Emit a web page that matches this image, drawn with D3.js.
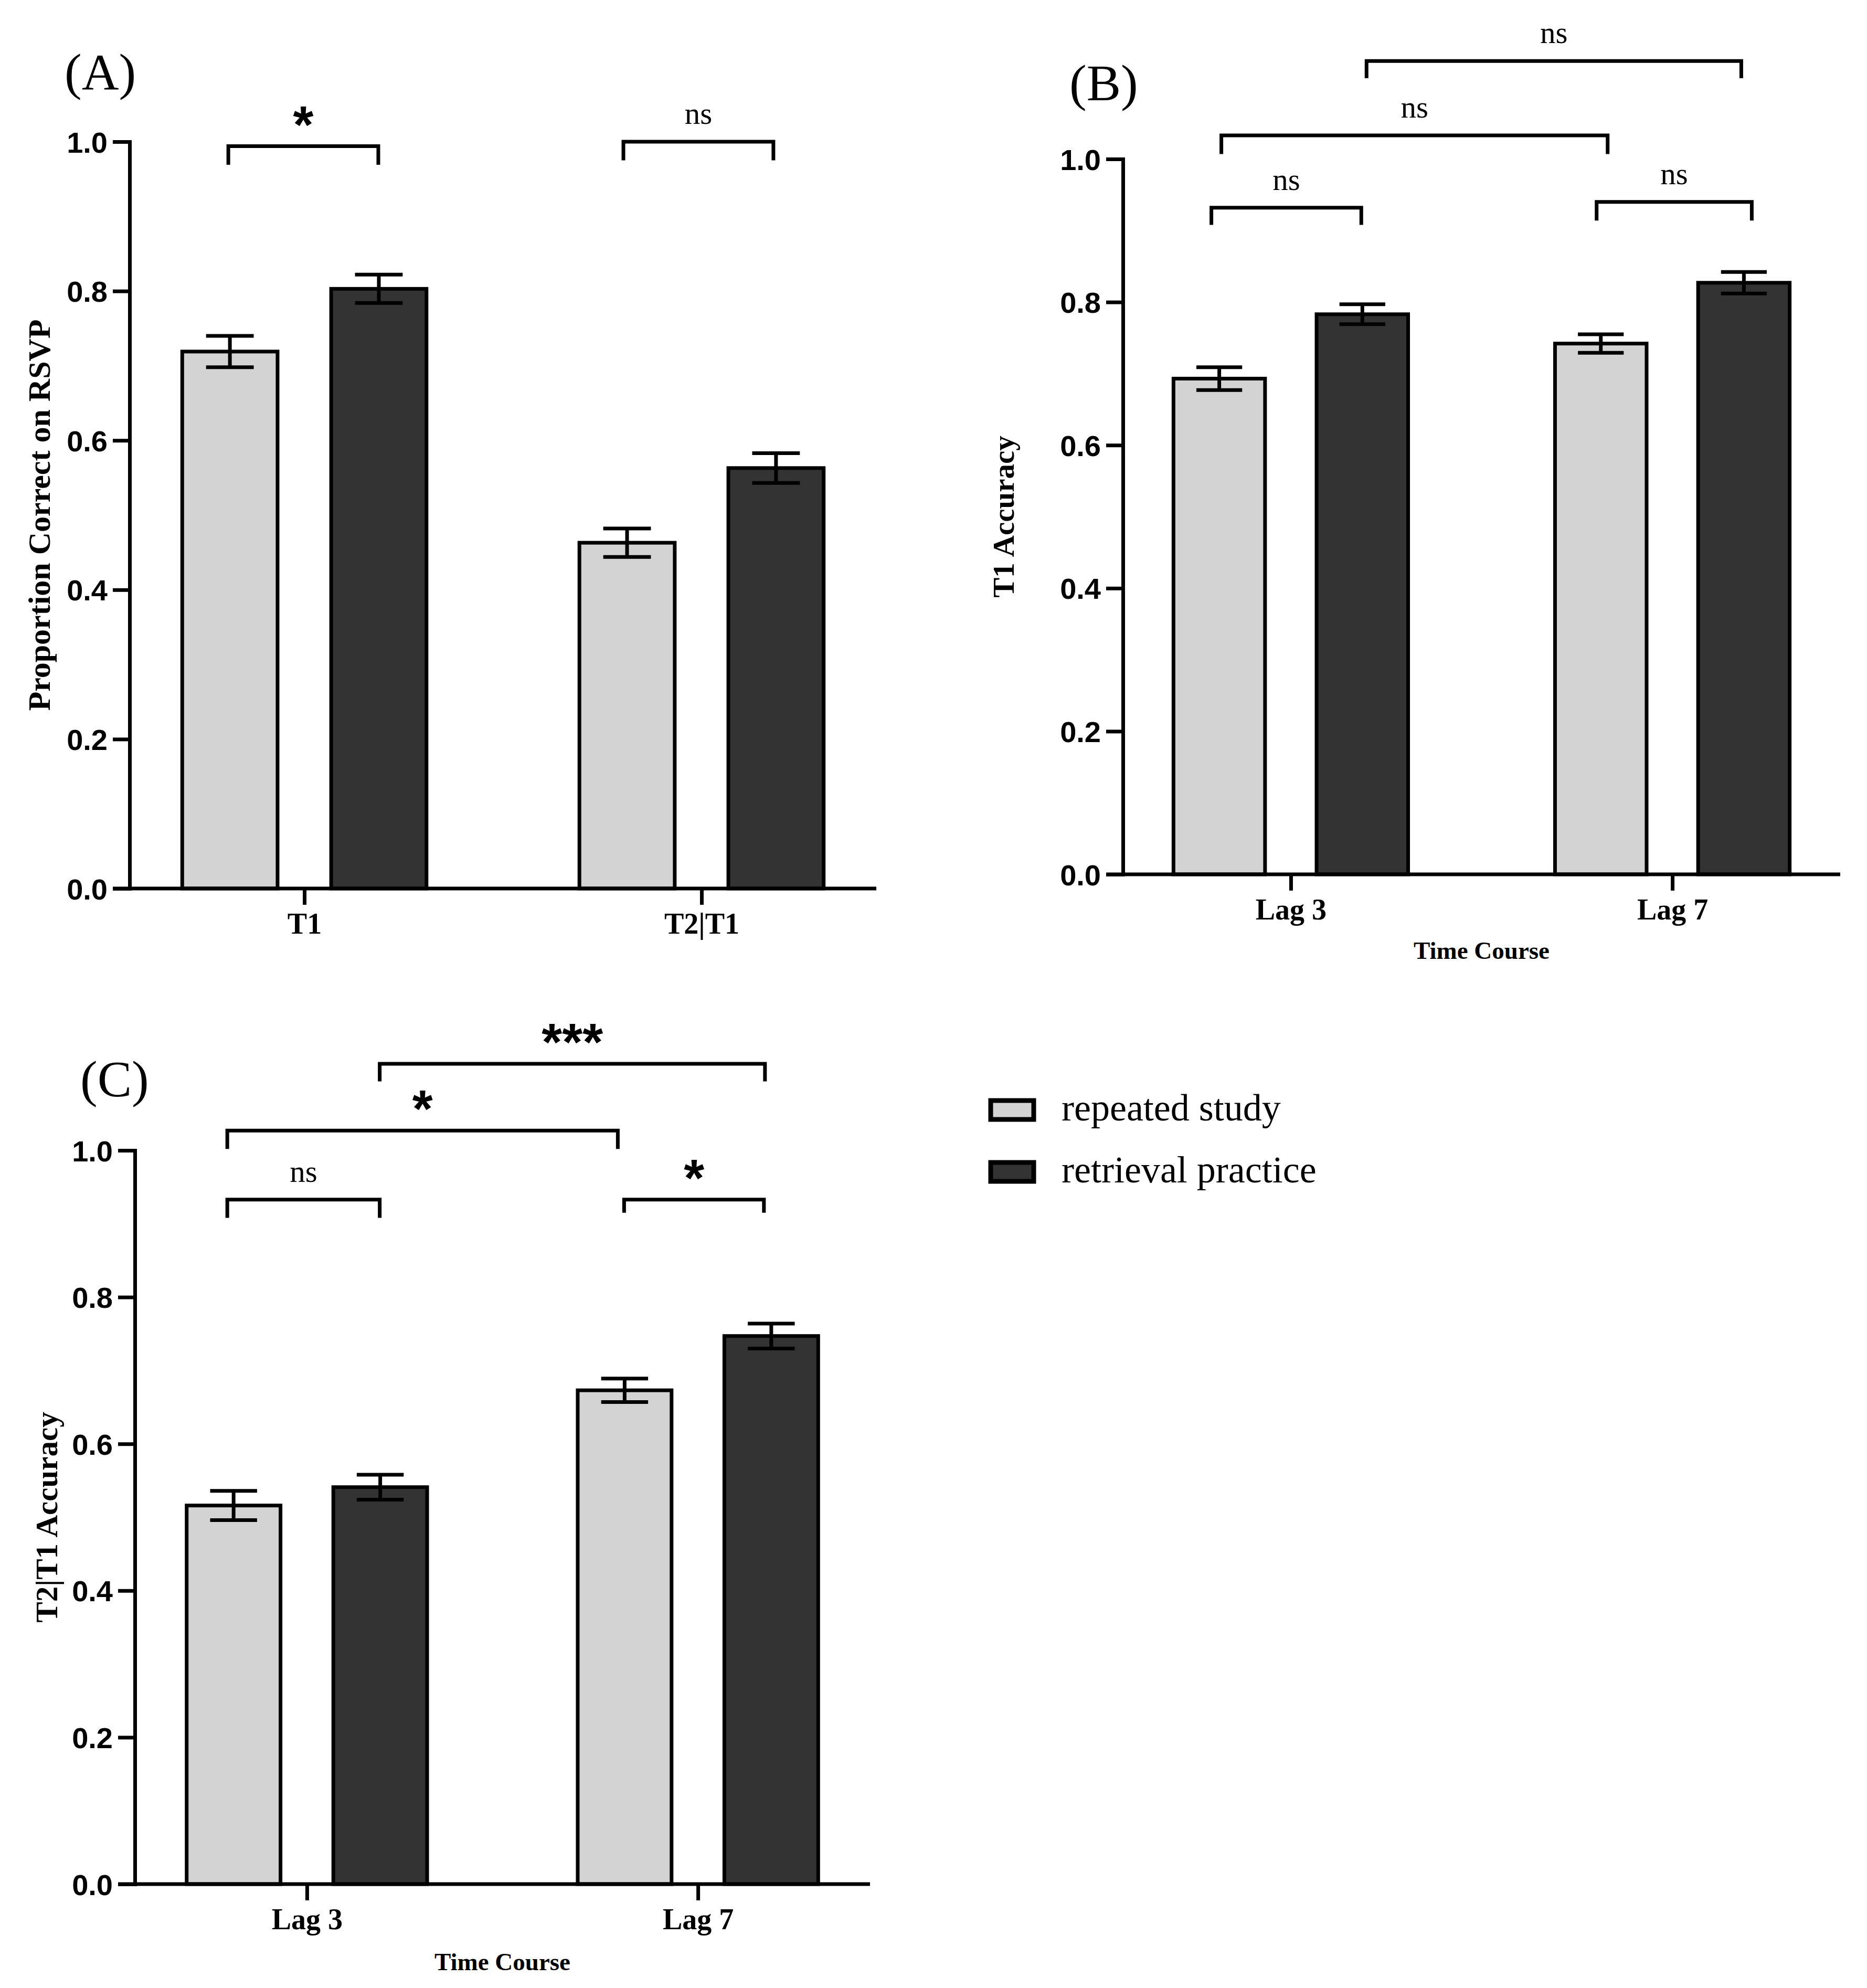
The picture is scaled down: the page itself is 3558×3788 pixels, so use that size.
<!DOCTYPE html>
<html><head><meta charset="utf-8">
<script src="https://cdn.jsdelivr.net/npm/d3@7/dist/d3.min.js"></script>
<style>body{margin:0;background:#fff}svg{display:block}</style>
</head><body><svg id="chart"></svg>
<script>
// ---------- data ----------
const seriesNames = ["repeated study", "retrieval practice"];
const yTicks = [0, 0.2, 0.4, 0.6, 0.8, 1.0];

// Panel A
const catsA = ["T1", "T2|T1"];
const repeatedA = [0.719, 0.463];
const retrievalA = [0.803, 0.563];
const errRepeatedA = [0.021, 0.019];
const errRetrievalA = [0.019, 0.020];
const bracketsA = [
  { from: [0, 0], to: [0, 1], top: 0.994, bottom: 0.969, label: "*" },
  { from: [1, 0], to: [1, 1], top: 1.000, bottom: 0.975, label: "ns" }
];

// Panel B
const catsB = ["Lag 3", "Lag 7"];
const repeatedB = [0.693, 0.742];
const retrievalB = [0.783, 0.827];
const errRepeatedB = [0.016, 0.013];
const errRetrievalB = [0.014, 0.015];
const bracketsB = [
  { from: [0, 0], to: [0, 1], top: 0.932, bottom: 0.908, label: "ns" },
  { from: [0, 0], to: [1, 0], top: 1.033, bottom: 1.007, label: "ns" },
  { from: [0, 1], to: [1, 1], top: 1.137, bottom: 1.113, label: "ns" },
  { from: [1, 0], to: [1, 1], top: 0.940, bottom: 0.914, label: "ns" }
];

// Panel C
const catsC = ["Lag 3", "Lag 7"];
const repeatedC = [0.516, 0.673];
const retrievalC = [0.541, 0.747];
const errRepeatedC = [0.020, 0.016];
const errRetrievalC = [0.017, 0.017];
const bracketsC = [
  { from: [0, 0], to: [0, 1], top: 0.933, bottom: 0.908, label: "ns" },
  { from: [0, 0], to: [1, 0], top: 1.027, bottom: 1.002, label: "*" },
  { from: [0, 1], to: [1, 1], top: 1.118, bottom: 1.094, label: "***" },
  { from: [1, 0], to: [1, 1], top: 0.933, bottom: 0.915, label: "*" }
];

// ---------- style / layout ----------
const W = 3558, H = 3788;
const fills = ["#d3d3d3", "#333333"];
const SERIF = "'Liberation Serif','Times New Roman',serif";
const SANS = "'Liberation Sans',Arial,sans-serif";
const LW = 7;

const panels = [
  { letter: "(A)", cats: catsA, values: [repeatedA, retrievalA], errs: [errRepeatedA, errRetrievalA],
    brackets: bracketsA, nudge: [[-3, -1], [-7, -5]],
    yTitle: "Proportion Correct on RSVP", yTitleSize: 60, xTitle: null,
    frame: { x0: 247, x1: 1670, y0: 1693, y1: 270 }, letterPos: [123, 170], yTitleX: 77, xTitleY: null },
  { letter: "(B)", cats: catsB, values: [repeatedB, retrievalB], errs: [errRepeatedB, errRetrievalB],
    brackets: bracketsB, nudge: [[-15, -2], [4, 13], [8, -5], [-8, 15]],
    yTitle: "T1 Accuracy", yTitleSize: 57, xTitle: "Time Course",
    frame: { x0: 2140, x1: 3507, y0: 1666, y1: 303 }, letterPos: [2038, 191], yTitleX: 1914, xTitleY: 1827 },
  { letter: "(C)", cats: catsC, values: [repeatedC, retrievalC], errs: [errRepeatedC, errRetrievalC],
    brackets: bracketsC, nudge: [[-12, -1], [-12, -13], [-1, -12], [-1, -14]],
    yTitle: "T2|T1 Accuracy", yTitleSize: 59, xTitle: "Time Course",
    frame: { x0: 257, x1: 1658, y0: 3590, y1: 2192 }, letterPos: [153, 2089], yTitleX: 91, xTitleY: 3754 }
];

const svg = d3.select("#chart").attr("width", W).attr("height", H)
  .attr("viewBox", `0 0 ${W} ${H}`);
svg.append("rect").attr("width", W).attr("height", H).attr("fill", "#fff");

function drawPanel(p) {
  const { x0, x1, y0, y1 } = p.frame;
  const g = svg.append("g");
  const x = d3.scalePoint().domain(p.cats).range([x0, x1]).padding(0.44);
  const step = x.step();
  const inner = d3.scaleBand().domain(d3.range(seriesNames.length))
    .range([-0.3075 * step, 0.3075 * step]).paddingInner(0.36);
  const bw = inner.bandwidth();
  const y = d3.scaleLinear().domain([0, 1]).range([y0, y1]);

  const barData = [];
  p.cats.forEach((c, i) => seriesNames.forEach((s, k) => {
    barData.push({ c, k, v: p.values[k][i], e: p.errs[k][i] });
  }));
  const cx = (ci, k) => x(p.cats[ci]) + inner(k) + bw / 2;

  // bars
  g.selectAll("rect.bar").data(barData).join("rect").attr("class", "bar")
    .attr("x", d => x(d.c) + inner(d.k))
    .attr("y", d => y(d.v))
    .attr("width", bw)
    .attr("height", d => y(0) - y(d.v))
    .attr("fill", d => fills[d.k])
    .attr("stroke", "#000").attr("stroke-width", LW);

  // error bars
  const eb = g.selectAll("g.err").data(barData).join("g").attr("class", "err")
    .attr("stroke", "#000").attr("stroke-width", LW).attr("fill", "none");
  eb.append("line")
    .attr("x1", d => x(d.c) + inner(d.k) + bw / 2).attr("x2", d => x(d.c) + inner(d.k) + bw / 2)
    .attr("y1", d => y(d.v - d.e)).attr("y2", d => y(d.v + d.e));
  [1, -1].forEach(sgn => {
    eb.append("line")
      .attr("x1", d => x(d.c) + inner(d.k) + bw / 2 - bw * 0.25)
      .attr("x2", d => x(d.c) + inner(d.k) + bw / 2 + bw * 0.25)
      .attr("y1", d => y(d.v + sgn * d.e)).attr("y2", d => y(d.v + sgn * d.e));
  });

  // y axis
  const ya = g.append("g").attr("transform", `translate(${x0},0)`)
    .call(d3.axisLeft(y).tickValues(yTicks).tickFormat(d3.format(".1f"))
      .tickSize(32).tickSizeOuter(0).tickPadding(10));
  ya.select(".domain").attr("stroke-width", LW).attr("stroke-linecap", "square");
  ya.selectAll(".tick line").attr("stroke-width", LW);
  ya.selectAll("text").attr("font-family", SANS).attr("font-weight", "bold")
    .attr("font-size", 56).attr("fill", "#000").attr("dy", "0.36em");

  // x axis
  const xa = g.append("g").attr("transform", `translate(0,${y0})`)
    .call(d3.axisBottom(x).tickSize(31).tickSizeOuter(0).tickPadding(15));
  xa.select(".domain").attr("d", `M${x0 - 32},0H${x1}`).attr("stroke-width", LW);
  xa.selectAll(".tick line").attr("stroke-width", LW);
  xa.selectAll("text").attr("font-family", SERIF).attr("font-weight", "bold")
    .attr("font-size", 56).attr("fill", "#000");

  // significance brackets
  p.brackets.forEach((b, bi) => {
    const nd = p.nudge[bi] || [0, 0];
    const xa_ = cx(b.from[0], b.from[1]) + nd[0], xb_ = cx(b.to[0], b.to[1]) + nd[1];
    g.append("path")
      .attr("d", `M${xa_},${y(b.bottom)}V${y(b.top)}H${xb_}V${y(b.bottom)}`)
      .attr("fill", "none").attr("stroke", "#000").attr("stroke-width", LW);
    const mx = (xa_ + xb_) / 2;
    if (b.label === "ns") {
      g.append("text").attr("x", mx).attr("y", y(b.top) - 34)
        .attr("text-anchor", "middle").attr("font-family", SERIF)
        .attr("font-size", 59).text(b.label);
    } else {
      g.append("text").attr("x", mx).attr("y", y(b.top) - 7)
        .attr("text-anchor", "middle").attr("font-family", SANS).attr("font-weight", "bold")
        .attr("font-size", 100).text(b.label);
    }
  });

  // panel letter
  g.append("text").attr("x", p.letterPos[0]).attr("y", p.letterPos[1])
    .attr("font-family", SERIF).attr("font-size", 98).text(p.letter);

  // y title
  const ymid = (y0 + y1) / 2;
  g.append("text")
    .attr("transform", `translate(${p.yTitleX + 18},${ymid}) rotate(-90)`)
    .attr("text-anchor", "middle").attr("font-family", SERIF).attr("font-weight", "bold")
    .attr("font-size", p.yTitleSize).text(p.yTitle);

  // x title
  if (p.xTitle) {
    g.append("text").attr("x", (x0 + x1) / 2).attr("y", p.xTitleY)
      .attr("text-anchor", "middle").attr("font-family", SERIF).attr("font-weight", "bold")
      .attr("font-size", 47).text(p.xTitle);
  }
}
panels.forEach(drawPanel);

// legend
const legend = svg.append("g");
const legY = [2093, 2211];
seriesNames.forEach((s, k) => {
  legend.append("rect").attr("x", 1888).attr("y", legY[k] + 4).attr("width", 82).attr("height", 36)
    .attr("fill", fills[k]).attr("stroke", "#000").attr("stroke-width", 9);
  legend.append("text").attr("x", 2023).attr("y", legY[k] + 42)
    .attr("font-family", SERIF).attr("font-size", 72).text(s);
});
</script></body></html>
